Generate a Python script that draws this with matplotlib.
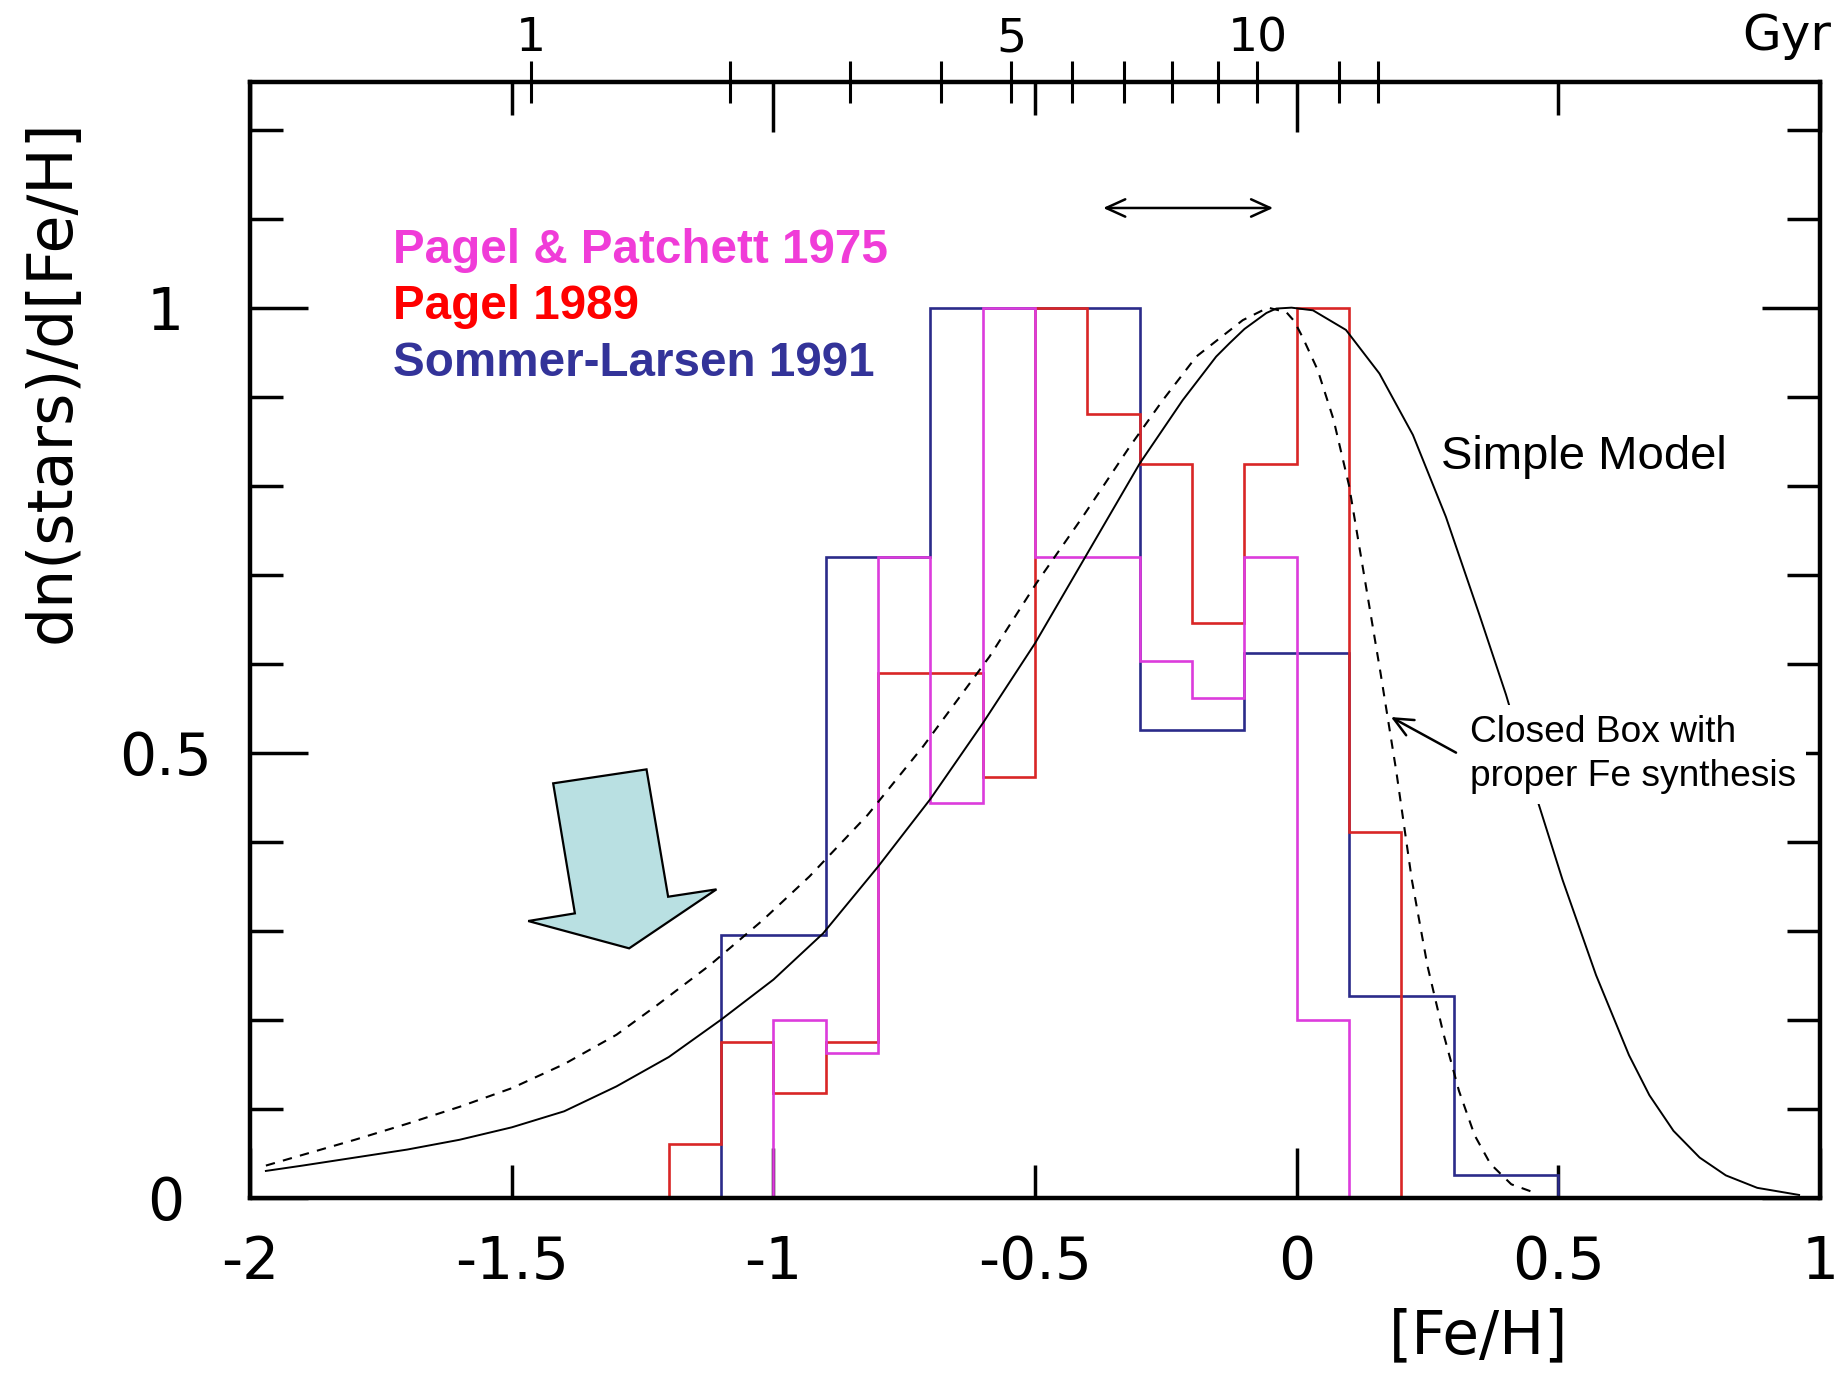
import matplotlib.pyplot as plt
from matplotlib.patches import Polygon

# metallicity distributions, each normalised to its peak bin
pp75_edges = [-1.0, -0.9, -0.8, -0.7, -0.6, -0.5, -0.4, -0.3, -0.2, -0.1, 0.0, 0.1]
pp75_vals = [0.20, 0.162, 0.72, 0.443, 1.0, 0.72, 0.72, 0.603, 0.561, 0.72, 0.20]

p89_edges = [-1.2, -1.1, -1.0, -0.9, -0.8, -0.7, -0.6, -0.5, -0.4, -0.3, -0.2, -0.1, 0.0, 0.1, 0.2]
p89_vals = [0.06, 0.175, 0.117, 0.175, 0.59, 0.59, 0.473, 1.0, 0.88, 0.824, 0.646, 0.824, 1.0, 0.411]

sl91_edges = [-1.1, -1.0, -0.9, -0.8, -0.7, -0.6, -0.5, -0.4, -0.3, -0.2, -0.1, 0.0, 0.1, 0.2, 0.3, 0.4, 0.5]
sl91_vals = [0.295, 0.295, 0.72, 0.72, 1.0, 1.0, 1.0, 1.0, 0.526, 0.526, 0.612, 0.612, 0.226, 0.226, 0.025, 0.025]

# simple closed-box model
simple_feh = [-1.97, -1.9, -1.8, -1.7, -1.6, -1.5, -1.4, -1.3, -1.2, -1.1, -1.0, -0.905, -0.8, -0.7,
              -0.6, -0.5, -0.4, -0.3, -0.218, -0.154, -0.1285, -0.1, -0.058, -0.039, -0.01, 0.031, 0.094,
              0.158, 0.222, 0.285, 0.349, 0.40, 0.457, 0.508, 0.572, 0.635, 0.674, 0.72, 0.77, 0.82,
              0.88, 0.96]
simple_n = [0.030, 0.036, 0.045, 0.054, 0.065, 0.079, 0.097, 0.125, 0.158, 0.200, 0.245, 0.297, 0.372, 0.448,
            0.533, 0.623, 0.724, 0.825, 0.896, 0.945, 0.960, 0.976, 0.994, 0.999, 1.0, 0.997, 0.975,
            0.926, 0.857, 0.765, 0.655, 0.565, 0.452, 0.357, 0.250, 0.160, 0.115, 0.075, 0.045, 0.025,
            0.011, 0.003]

# closed box with proper Fe synthesis
box_feh = [-1.97, -1.9, -1.8, -1.7, -1.6, -1.5, -1.4, -1.3, -1.223, -1.122, -1.02, -0.931, -0.82,
           -0.714, -0.587, -0.498, -0.409, -0.319, -0.256, -0.192, -0.103, -0.055, -0.02, -0.005, 0.011,
           0.04, 0.07, 0.10, 0.13, 0.16, 0.19, 0.22, 0.25, 0.28, 0.31, 0.34, 0.37, 0.41, 0.457]
box_n = [0.036, 0.048, 0.065, 0.083, 0.102, 0.123, 0.150, 0.183, 0.216, 0.261, 0.312, 0.361, 0.430,
         0.507, 0.608, 0.690, 0.765, 0.844, 0.896, 0.945, 0.986, 1.0, 0.995, 0.985, 0.967,
         0.930, 0.875, 0.800, 0.695, 0.590, 0.480, 0.357, 0.260, 0.185, 0.120, 0.070, 0.038, 0.015, 0.005]

# age scale along the top ([Fe/H] reached at each age)
gyr_feh = [-1.463, -1.083, -0.853, -0.679, -0.546, -0.429, -0.330, -0.238, -0.151, -0.075, 0.081, 0.156]
gyr_labels = ['1', '', '', '', '5', '', '', '', '', '10', '', '']

# block arrow pointing at the metal-poor tail
tail_arrow = [(-1.421, 0.4655), (-1.2426, 0.4812), (-1.2013, 0.3381), (-1.1089, 0.3464),
              (-1.2758, 0.2801), (-1.4687, 0.3108), (-1.3795, 0.3194)]

magenta = '#DC3CDC'
red = '#D92626'
navy = '#2B2B8A'

fig = plt.figure(figsize=(18.41, 13.75), dpi=100)
ax = fig.add_axes([0.1359, 0.1290, 0.8527, 0.8112])
ax_top = ax.twiny()

ax.stairs(sl91_vals, sl91_edges, baseline=0, color=navy, lw=1.9, zorder=2)
ax.stairs(p89_vals, p89_edges, baseline=0, color=red, lw=1.9, zorder=2)
ax.stairs(pp75_vals, pp75_edges, baseline=0, color=magenta, lw=1.9, zorder=2)

ax.plot(simple_feh, simple_n, color='black', lw=1.4, zorder=3)
ax.plot(box_feh, box_n, color='black', lw=1.5, ls=(0, (4.5, 4)), zorder=3)

ax.add_patch(Polygon(tail_arrow, closed=True, facecolor='#B9E0E2', edgecolor='black', lw=1.6, zorder=4))

ax.annotate('', xy=(-0.045, 1.112), xytext=(-0.37, 1.112),
            arrowprops=dict(arrowstyle='<->,head_length=0.55,head_width=0.25',
                            mutation_scale=25, lw=1.8, color='black', shrinkA=0, shrinkB=0))
ax.annotate('', xy=(0.180, 0.540), xytext=(0.3044, 0.500), zorder=6,
            arrowprops=dict(arrowstyle='->,head_length=0.55,head_width=0.25',
                            mutation_scale=25, lw=1.8, color='black', shrinkA=0, shrinkB=0))

sans = 'Liberation Sans'
ax.text(-1.7265, 1.050, 'Pagel & Patchett 1975', color='#F03CD8', fontsize=34.3,
        fontweight='bold', family=sans, va='baseline')
ax.text(-1.7265, 0.987, 'Pagel 1989', color='#FF0000', fontsize=34.3,
        fontweight='bold', family=sans, va='baseline')
ax.text(-1.7265, 0.923, 'Sommer-Larsen 1991', color='#333399', fontsize=34.3,
        fontweight='bold', family=sans, va='baseline')
ax.text(0.276, 0.819, 'Simple Model', fontsize=34, family=sans, va='baseline')
white_box = dict(facecolor='white', edgecolor='none', pad=7)
ax.text(0.332, 0.512, 'Closed Box with', fontsize=26.7, family=sans, va='baseline',
        bbox=white_box, zorder=5)
ax.text(0.332, 0.462, 'proper Fe synthesis', fontsize=26.7, family=sans, va='baseline',
        bbox=white_box, zorder=5)

ax.set_xlim(-2, 1)
ax.set_ylim(0, 1.2533)

# top axis: age ticks
ax_top.set_xlim(-2, 1)
ax_top.set_xticks(gyr_feh)
ax_top.set_xticklabels(gyr_labels, family='DejaVu Sans')
ax_top.tick_params(axis='x', direction='inout', length=30, width=2.2, labelsize=34, pad=0)
for s in ax_top.spines.values():
    s.set_visible(False)
fig.text(0.9707, 0.9633, 'Gyr', fontsize=36, family='DejaVu Sans', ha='center', va='baseline')

# main axis ticks (set after twiny, which resets the top ticks)
ax.set_xticks([-2, -1, 0, 1])
ax.set_xticklabels(['-2', '-1', '0', '1'], family='DejaVu Sans')
ax.set_xticks([-1.5, -0.5, 0.5], minor=True)
ax.set_xticklabels(['-1.5', '-0.5', '0.5'], minor=True, family='DejaVu Sans')
ax.tick_params(axis='x', which='both', direction='in', top=True, bottom=True,
               labelsize=42, pad=26, width=2.5)
ax.tick_params(axis='x', which='major', length=36)
ax.tick_params(axis='x', which='minor', length=24)

ax.set_yticks([0, 0.5, 1.0])
ax.set_yticklabels(['0', '0.5', '1'], family='DejaVu Sans')
ax.set_yticks([0.1, 0.2, 0.3, 0.4, 0.6, 0.7, 0.8, 0.9, 1.1, 1.2], minor=True)
ax.tick_params(axis='y', which='both', direction='in', left=True, right=True,
               labelsize=42, pad=61, width=2.5)
ax.tick_params(axis='y', which='major', length=42)
ax.tick_params(axis='y', which='minor', length=24)
for lab in ax.get_yticklabels():
    lab.set_horizontalalignment('center')

for s in ax.spines.values():
    s.set_linewidth(3.2)

fig.text(0.0288, 0.7225, 'dn(stars)/d[Fe/H]', rotation=90, fontsize=44.5,
         family='DejaVu Sans', ha='center', va='center')
fig.text(0.8034, 0.028, '[Fe/H]', fontsize=43, family='DejaVu Sans', ha='center', va='center')

fig.savefig('out.png', dpi=100)
